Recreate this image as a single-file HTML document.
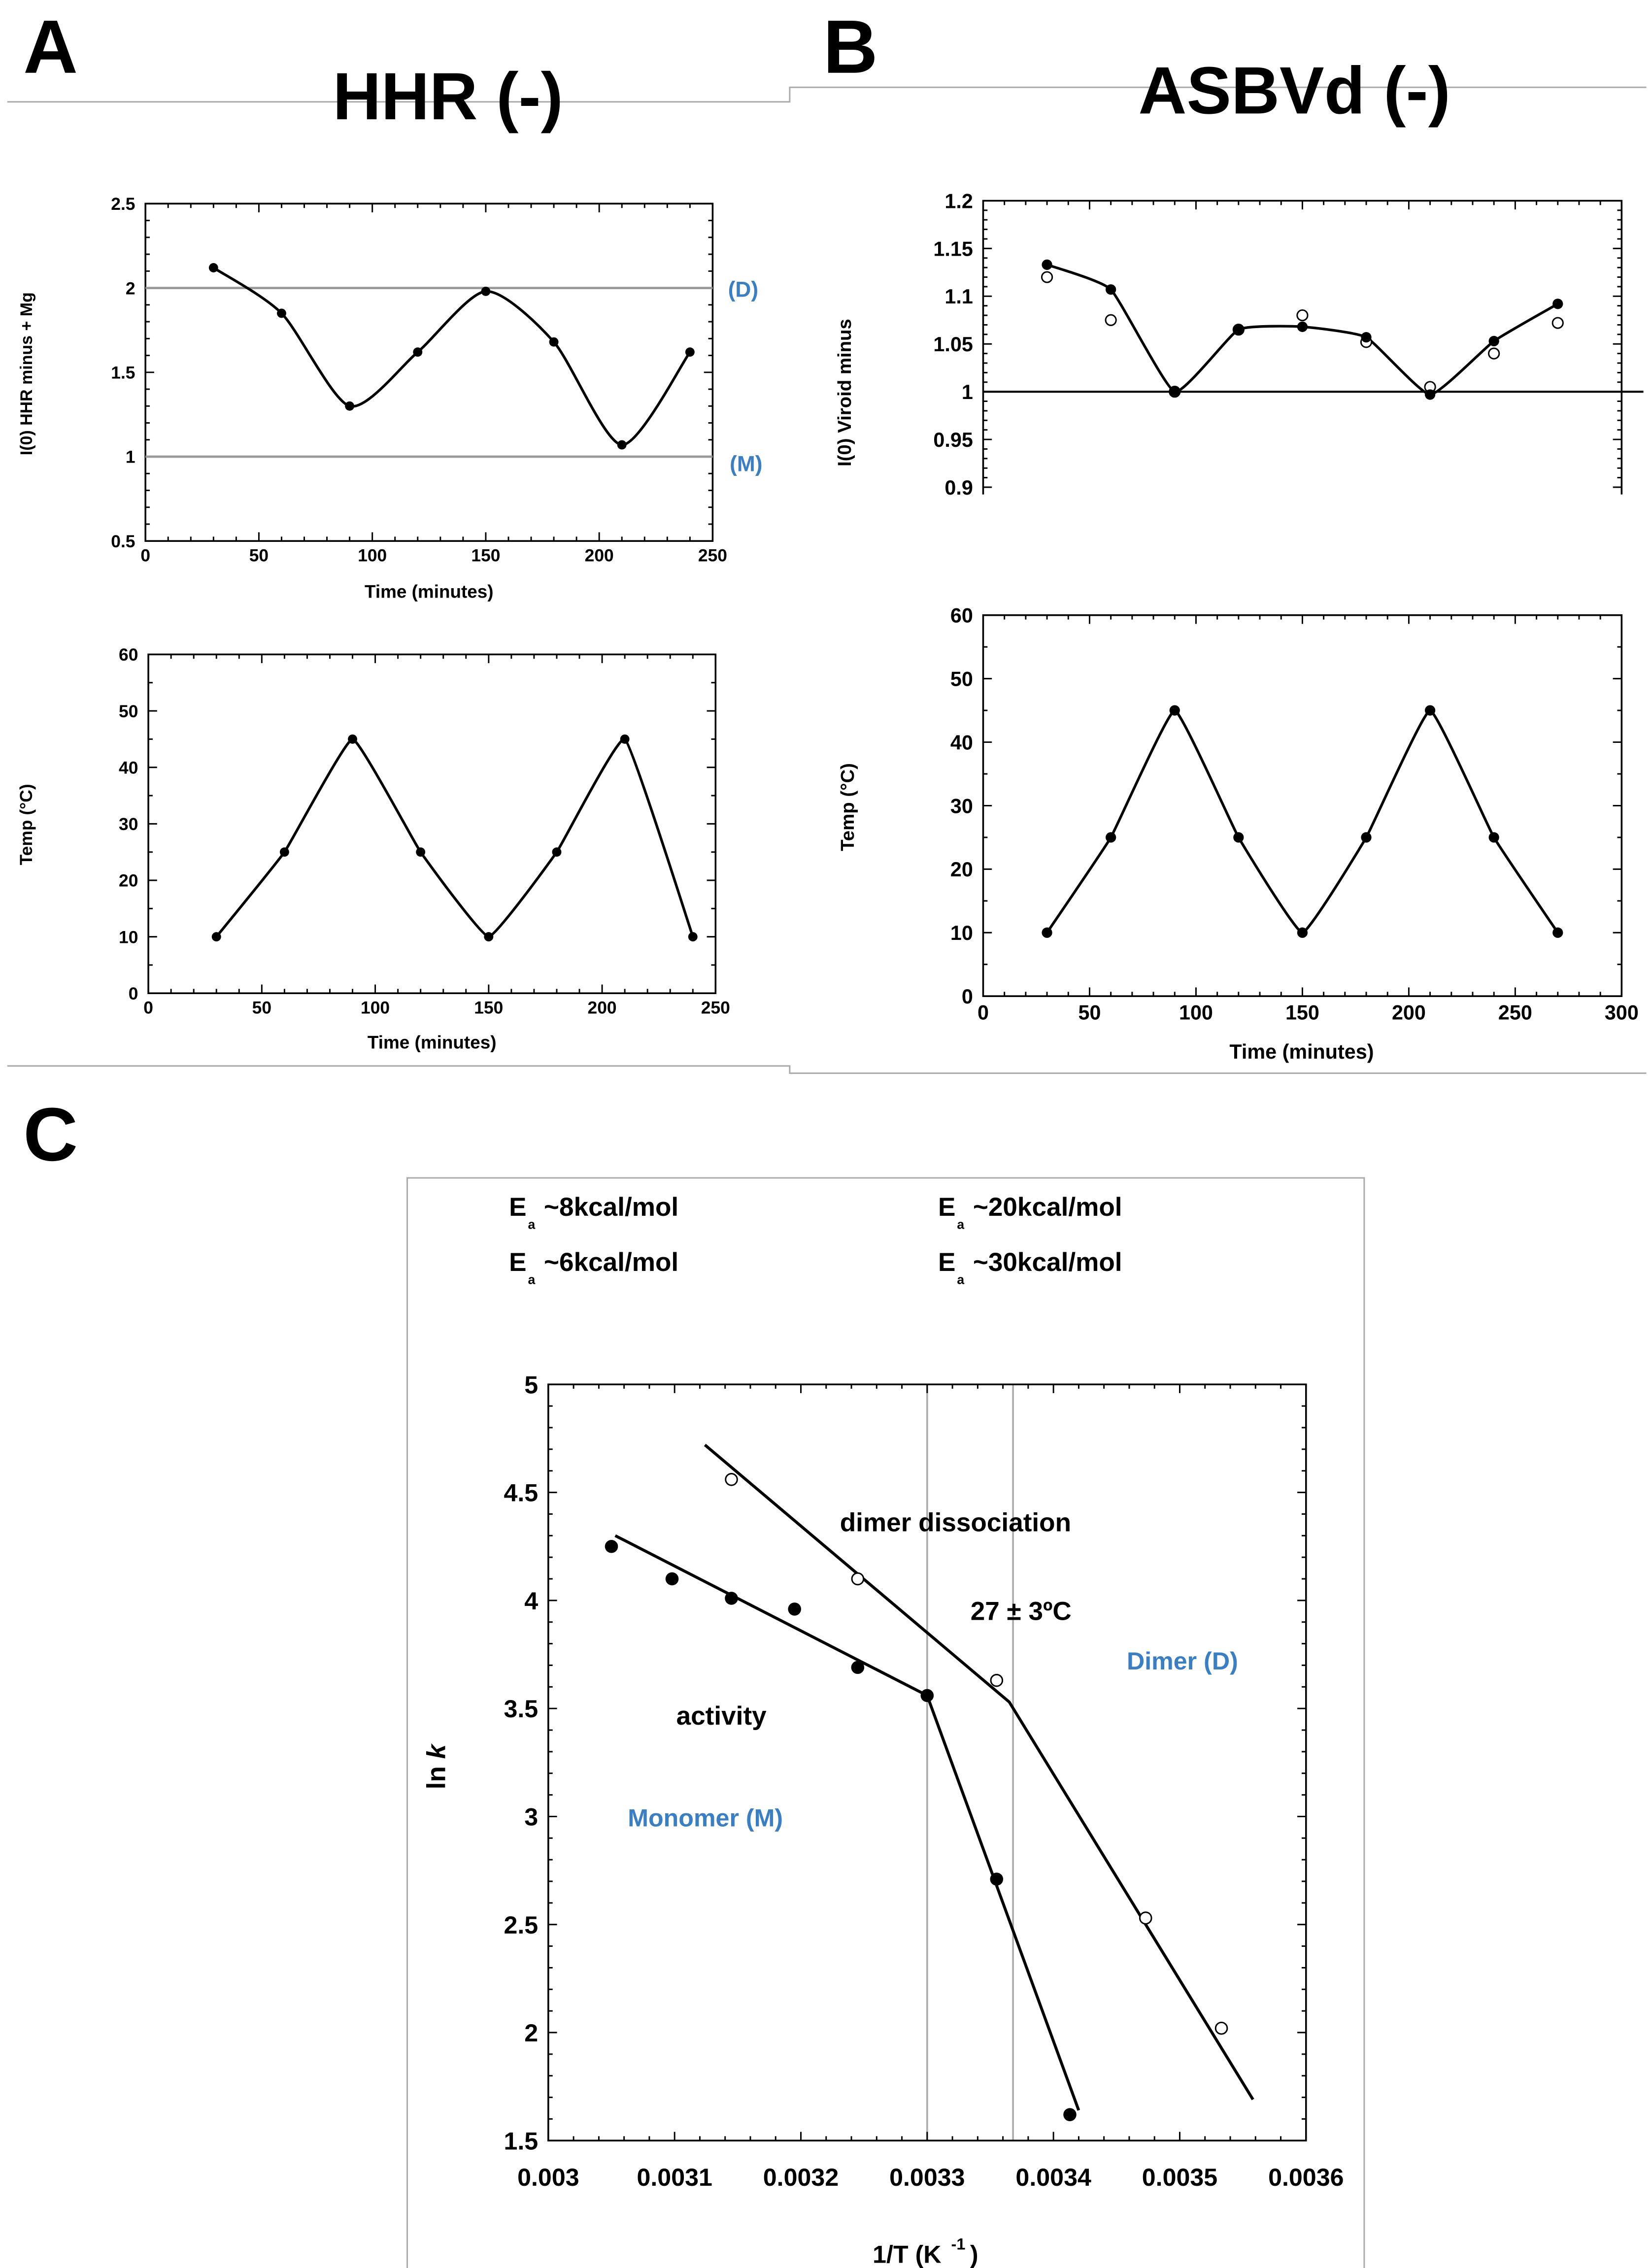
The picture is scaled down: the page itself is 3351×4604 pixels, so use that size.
<!DOCTYPE html>
<html><head><meta charset="utf-8"><style>
html,body{margin:0;padding:0;background:#fff;}
svg{display:block;}
text{font-family:"Liberation Sans",Arial,sans-serif;font-weight:bold;}
</style></head><body>
<svg id="fig" width="3351" height="4604" viewBox="0 0 1135.2 1559.6" xmlns="http://www.w3.org/2000/svg">
<rect x="0" y="0" width="1135.2" height="1559.6" fill="#fff"/>
<g stroke="#aaa" stroke-width="1" fill="none">
<polyline points="5,70 543,70 543,60 1132,60"/>
<polyline points="5,733 543,733 543,738 1132,738"/>
<rect x="280" y="810" width="658" height="760"/>
</g>
<text x="16" y="50" font-size="52">A</text>
<text x="566" y="50" font-size="52">B</text>
<text x="16" y="798" font-size="52">C</text>
<text x="308" y="82" font-size="46" text-anchor="middle">HHR (-)</text>
<text x="890" y="78" font-size="46" text-anchor="middle">ASBVd (-)</text>
<g id="plots"></g>
</svg>
<script>
// Panel A top data
const aTime = [30,60,90,120,150,180,210,240];
const aI0 = [2.12,1.85,1.30,1.62,1.98,1.68,1.07,1.62];
// Panel A bottom
const aTemp = [10,25,45,25,10,25,45,10];
// Panel B top
const bTime = [30,60,90,120,150,180,210,240,270];
const bFilled = [1.133,1.107,1.0,1.065,1.068,1.057,0.997,1.053,1.092];
const bOpen = [1.12,1.075,1.0,1.065,1.08,1.052,1.005,1.04,1.072];
// Panel B bottom
const bTemp = [10,25,45,25,10,25,45,25,10];
// Panel C
const cActX = [0.003050,0.003098,0.003145,0.003195,0.003245,0.003300,0.003355,0.003413];
const cActY = [4.25,4.10,4.01,3.96,3.69,3.56,2.71,1.62];
const cDimX = [0.003145,0.003245,0.003355,0.003473,0.003533];
const cDimY = [4.56,4.10,3.63,2.53,2.02];
const cActFitX = [0.003053,0.003300,0.003420];
const cActFitY = [4.30,3.56,1.64];
const cDimFitX = [0.003124,0.003365,0.003558];
const cDimFitY = [4.72,3.53,1.69];
const cVLines = [0.0033,0.003368];

const NS="http://www.w3.org/2000/svg";
const root=document.getElementById('plots');
function mk(tag,attrs,parent){const e=document.createElementNS(NS,tag);for(const k in attrs)e.setAttribute(k,attrs[k]);(parent||root).appendChild(e);return e;}
function txt(s,x,y,size,anchor,parent,fill){const t=mk('text',{x:x,y:y,'font-size':size,'text-anchor':anchor||'middle',fill:fill||'#000'},parent);t.textContent=s;return t;}
function scale(d0,d1,r0,r1){return v=>r0+(v-d0)/(d1-d0)*(r1-r0);}
function smooth(pts,tdiv){tdiv=tdiv||6;let d='M'+pts[0][0]+','+pts[0][1];for(let i=0;i<pts.length-1;i++){const p0=pts[i-1]||pts[i],p1=pts[i],p2=pts[i+1],p3=pts[i+2]||p2;const c1=[p1[0]+(p2[0]-p0[0])/tdiv,p1[1]+(p2[1]-p0[1])/tdiv],c2=[p2[0]-(p3[0]-p1[0])/tdiv,p2[1]-(p3[1]-p1[1])/tdiv];d+=' C'+c1+' '+c2+' '+p2;}return d;}

function axes(g,o){
  const {x0,x1,y0,y1,xs,ys,xt,yt,xfmt,yfmt,fs,noBottom,xMinor,yMinor,xgap}=o;
  const gap=xgap||(fs+2);
  if(noBottom){mk('polyline',{points:`${x0},${y1+5} ${x0},${y0} ${x1},${y0} ${x1},${y1+5}`,fill:'none',stroke:'#000','stroke-width':1.2},g);}
  else mk('rect',{x:x0,y:y0,width:x1-x0,height:y1-y0,fill:'none',stroke:'#000','stroke-width':1.2},g);
  xt.forEach((v,i)=>{const x=xs(v);
    if(!noBottom){mk('line',{x1:x,x2:x,y1:y1,y2:y1-6,stroke:'#000'},g);txt(xfmt[i],x,y1+gap,fs,'middle',g);}
    mk('line',{x1:x,x2:x,y1:y0,y2:y0+6,stroke:'#000'},g);
    if(i<xt.length-1){for(let k=1;k<xMinor;k++){const xm=xs(v+(xt[i+1]-v)*k/xMinor);
      if(!noBottom)mk('line',{x1:xm,x2:xm,y1:y1,y2:y1-3,stroke:'#000'},g);mk('line',{x1:xm,x2:xm,y1:y0,y2:y0+3,stroke:'#000'},g);}}
  });
  yt.forEach((v,i)=>{const y=ys(v);
    mk('line',{x1:x0,x2:x0+6,y1:y,y2:y,stroke:'#000'},g);mk('line',{x1:x1,x2:x1-6,y1:y,y2:y,stroke:'#000'},g);
    txt(yfmt[i],x0-7,y+fs*0.36,fs,'end',g);
    if(i<yt.length-1){for(let k=1;k<yMinor;k++){const ym=ys(v+(yt[i+1]-v)*k/yMinor);
      mk('line',{x1:x0,x2:x0+3,y1:ym,y2:ym,stroke:'#000'},g);mk('line',{x1:x1,x2:x1-3,y1:ym,y2:ym,stroke:'#000'},g);}}
  });
}
function ylabel(g,s,x,y,fs){const t=txt(s,0,0,fs,'middle',g);t.setAttribute('transform',`translate(${x},${y}) rotate(-90)`);return t;}

// ---- Panel A top
{const g=mk('g',{});
 const xs=scale(0,250,100,490),ys=scale(0.5,2.5,372,140);
 axes(g,{x0:100,x1:490,y0:140,y1:372,xs,ys,xt:[0,50,100,150,200,250],yt:[0.5,1,1.5,2,2.5],xfmt:['0','50','100','150','200','250'],yfmt:['0.5','1','1.5','2','2.5'],fs:12,xMinor:5,yMinor:5});
 [2,1].forEach(v=>{const l=mk('line',{x1:100,x2:490,y1:ys(v),y2:ys(v),stroke:'#999','stroke-width':1.6},g);});
 const p=mk('path',{d:smooth(aTime.map((t,i)=>[xs(t),ys(aI0[i])]),8),fill:'none',stroke:'#000','stroke-width':1.8},g);
 
 aTime.forEach((t,i)=>{const c=mk('circle',{cx:xs(t),cy:ys(aI0[i]),r:3.2,fill:'#000'},g);});
 txt('(D)',511,204,15,'middle',g,'#3a7fc4');txt('(M)',513,324,15,'middle',g,'#3a7fc4');
 txt('Time (minutes)',295,411,12.5,'middle',g);ylabel(g,'I(0) HHR minus + Mg',22,257,11.5);}
// ---- Panel A bottom
{const g=mk('g',{});
 const xs=scale(0,250,102,492),ys=scale(0,60,683,450);
 axes(g,{x0:102,x1:492,y0:450,y1:683,xs,ys,xt:[0,50,100,150,200,250],yt:[0,10,20,30,40,50,60],xfmt:['0','50','100','150','200','250'],yfmt:['0','10','20','30','40','50','60'],fs:12,xMinor:5,yMinor:2});
 const p=mk('path',{d:smooth(aTime.map((t,i)=>[xs(t),ys(aTemp[i])]),20),fill:'none',stroke:'#000','stroke-width':1.8},g);
 
 aTime.forEach((t,i)=>{const c=mk('circle',{cx:xs(t),cy:ys(aTemp[i]),r:3.2,fill:'#000'},g);});
 txt('Time (minutes)',297,721,12.5,'middle',g);ylabel(g,'Temp (°C)',22,567,12);}
// ---- Panel B top
{const g=mk('g',{});
 const xs=scale(0,300,676,1115),ys=scale(0.9,1.2,335,138);
 axes(g,{x0:676,x1:1115,y0:138,y1:335,xs,ys,xt:[0,50,100,150,200,250,300],yt:[0.9,0.95,1,1.05,1.1,1.15,1.2],xfmt:['0','50','100','150','200','250','300'],yfmt:['0.9','0.95','1','1.05','1.1','1.15','1.2'],fs:14,noBottom:true,xMinor:5,yMinor:5});
 const l=mk('line',{x1:676,x2:1130,y1:ys(1),y2:ys(1),stroke:'#000','stroke-width':1.4},g);
 const p=mk('path',{d:smooth(bTime.map((t,i)=>[xs(t),ys(bFilled[i])]),14),fill:'none',stroke:'#000','stroke-width':1.8},g);
 
 bTime.forEach((t,i)=>{const c=mk('circle',{cx:xs(t),cy:ys(bOpen[i]),r:3.6,fill:'#fff',stroke:'#000','stroke-width':1},g);});
 bTime.forEach((t,i)=>{const c=mk('circle',{cx:xs(t),cy:ys(bFilled[i]),r:3.6,fill:'#000'},g);});
 ylabel(g,'I(0) Viroid minus',585,270,13);}
// ---- Panel B bottom
{const g=mk('g',{});
 const xs=scale(0,300,676,1115),ys=scale(0,60,685,423);
 axes(g,{x0:676,x1:1115,y0:423,y1:685,xs,ys,xt:[0,50,100,150,200,250,300],yt:[0,10,20,30,40,50,60],xfmt:['0','50','100','150','200','250','300'],yfmt:['0','10','20','30','40','50','60'],fs:14,xMinor:5,yMinor:2});
 const p=mk('path',{d:smooth(bTime.map((t,i)=>[xs(t),ys(bTemp[i])]),20),fill:'none',stroke:'#000','stroke-width':1.8},g);
 
 bTime.forEach((t,i)=>{const c=mk('circle',{cx:xs(t),cy:ys(bTemp[i]),r:3.6,fill:'#000'},g);});
 txt('Time (minutes)',895,728,14,'middle',g);ylabel(g,'Temp (°C)',587,555,13);}
// ---- Panel C
{const g=mk('g',{});
 const xs=scale(0.003,0.0036,377,898),ys=scale(1.5,5,1472,952);
 cVLines.forEach(v=>{const l=mk('line',{x1:xs(v),x2:xs(v),y1:952,y2:1472,stroke:'#aaa','stroke-width':1.2},g);});
 axes(g,{x0:377,x1:898,y0:952,y1:1472,xs,ys,xt:[0.003,0.0031,0.0032,0.0033,0.0034,0.0035,0.0036],yt:[1.5,2,2.5,3,3.5,4,4.5,5],xfmt:['0.003','0.0031','0.0032','0.0033','0.0034','0.0035','0.0036'],yfmt:['1.5','2','2.5','3','3.5','4','4.5','5'],fs:17,xMinor:5,yMinor:5,xgap:31});
 const f1=mk('polyline',{points:cActFitX.map((x,i)=>xs(x)+','+ys(cActFitY[i])).join(' '),fill:'none',stroke:'#000','stroke-width':2},g);
 
 const f2=mk('polyline',{points:cDimFitX.map((x,i)=>xs(x)+','+ys(cDimFitY[i])).join(' '),fill:'none',stroke:'#000','stroke-width':2},g);
 
 cActX.forEach((x,i)=>{const c=mk('circle',{cx:xs(x),cy:ys(cActY[i]),r:4.5,fill:'#000'},g);});
 cDimX.forEach((x,i)=>{const c=mk('circle',{cx:xs(x),cy:ys(cDimY[i]),r:4,fill:'#fff',stroke:'#000','stroke-width':1},g);});
 txt('dimer dissociation',657,1053,18,'middle',g);
 txt('27 ± 3ºC',702,1114,18,'middle',g);
 txt('Dimer (D)',813,1148,17,'middle',g,'#3a7fc4');
 txt('activity',496,1186,18,'middle',g);
 txt('Monomer (M)',485,1256,17,'middle',g,'#3a7fc4');
 txt('1/T (K',600,1556,17,'start',g);
 txt('-1',654,1547,11,'start',g);txt(')',667,1556,17,'start',g);
 const yl=mk('text',{'font-size':18,'text-anchor':'middle',transform:'translate(306,1215) rotate(-90)'},g);
 
 yl.appendChild(document.createTextNode('ln '));const ki=mk('tspan',{'font-style':'italic'},yl);ki.textContent='k';
 [['~8kcal/mol',350,836],['~6kcal/mol',350,874],['~20kcal/mol',645,836],['~30kcal/mol',645,874]].forEach(a=>{
   txt('E',a[1],a[2],18,'start',g);txt('a',a[1]+13,a[2]+9,9,'start',g);const v=txt(a[0],a[1]+24,a[2],18,'start',g);
   });
}
</script>
</body></html>
